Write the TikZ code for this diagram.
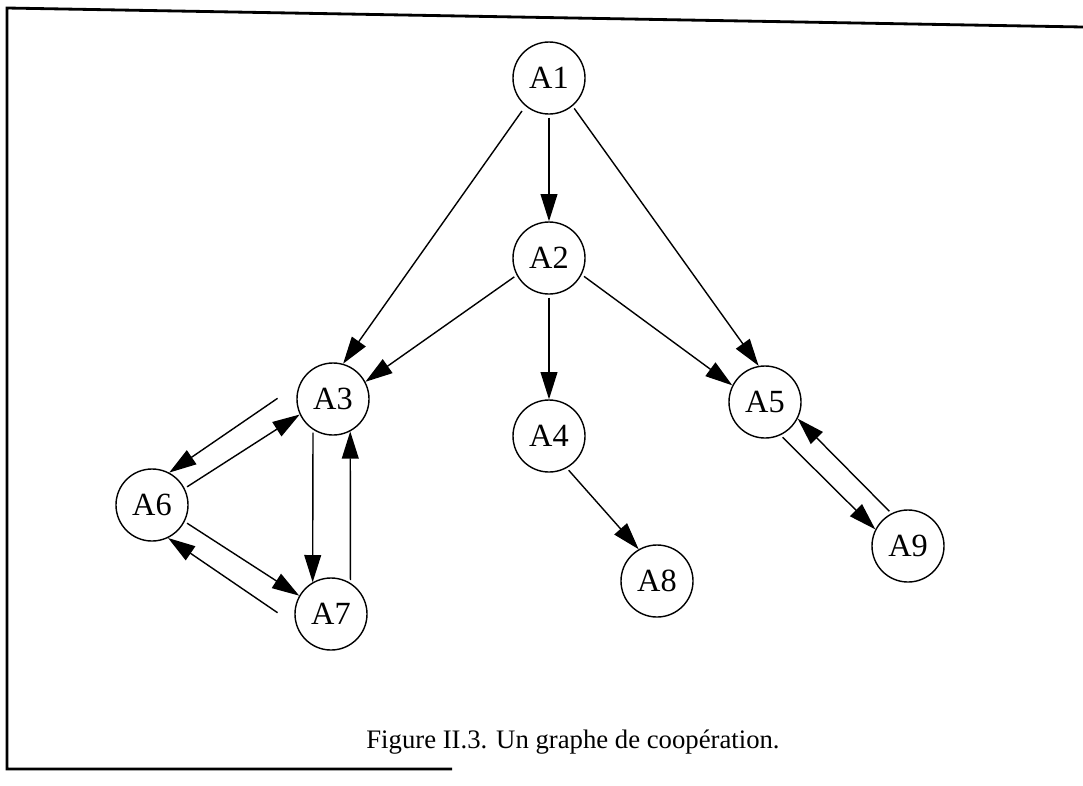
\documentclass[tikz,border=0pt]{standalone}
\usepackage{fontspec}
\setmainfont{Liberation Serif}
\usetikzlibrary{arrows.meta}
\tikzset{
  agent/.style={circle, draw, line width=1pt, minimum size=1.8cm, inner sep=0pt,
    font=\fontsize{23}{27}\selectfont},
  link/.style={line width=1pt, shorten <=0.07cm,
    -{Triangle[length=0.68cm,width=0.42cm]}},
  frame/.style={line width=2pt},
  captext/.style={anchor=base, font=\fontsize{19}{23}\selectfont}
}
\begin{document}
\begin{tikzpicture}[x=0.025cm,y=-0.025cm]
\useasboundingbox (0,0) rectangle (1083,785);
% frame
\draw[frame] (1083,27) -- (7,8) -- (7,769) -- (452,769);
% nodes
\node[agent] (A1) at (549,78) {A1};
\node[agent] (A2) at (549,258) {A2};
\node[agent] (A3) at (333,399) {A3};
\node[agent] (A4) at (549,436) {A4};
\node[agent] (A5) at (765,402) {A5};
\node[agent] (A6) at (152,505) {A6};
\node[agent] (A7) at (331,614) {A7};
\node[agent] (A8) at (657,581) {A8};
\node[agent] (A9) at (908,546) {A9};
% edges
\draw[link] (A1.270) -- (A2.90);
\draw[link, shorten <=0.15cm] (A1.230) -- (A3.74);
\draw[link] (A1.310) -- (A5.100);
\draw[link] (A2.208) -- (A3.28);
\draw[link] (A2.270) -- (A4.90);
\draw[link] (A2.333) -- (A5.153);
\draw[link, shorten <=0.68cm] (A3.154) -- (A6.62);
\draw[link] (A6.27) -- (A3.205);
\draw[link] (A6.333) -- (A7.150);
\draw[link, shorten <=0.56cm] (A7.198) -- (A6.296);
\draw[link] (A3.237) -- (A7.120);
\draw[link] (A7.58) -- (A3.298);
\draw[link] (A4.299) -- (A8.120);
\draw[link] (A5.295) -- (A9.153);
\draw[link] (A9.117) -- (A5.333);
% caption
\node[captext] (cap) at (573,748) {Figure II.3. Un graphe de coopération.};
\end{tikzpicture}
\end{document}
